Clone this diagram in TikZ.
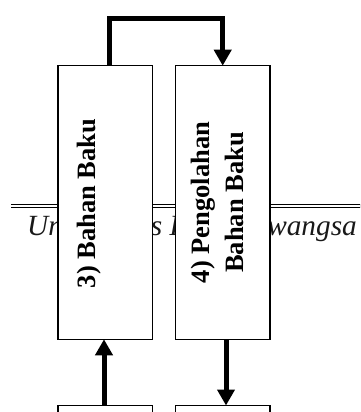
\documentclass[tikz,border=0pt]{standalone}
\usepackage{fontspec}
\setmainfont{Liberation Serif}
\usetikzlibrary{arrows.meta}
\tikzset{
  boxnode/.style={draw=black, line width=1.5pt, fill=white, rectangle, minimum width=94.7pt, minimum height=273.6pt, inner sep=0pt, outer sep=0pt},
  lowbox/.style={draw=black, line width=1.5pt, fill=white, rectangle, minimum width=94.7pt, minimum height=40pt, inner sep=0pt, outer sep=0pt},
  boxlabel/.style={rotate=90, anchor=base, inner sep=0pt, font=\bfseries\fontsize{26.5}{34}\selectfont},
  conn/.style={line width=5pt, line join=miter, draw=black},
  arr/.style={conn, -{Triangle[width=17pt,length=16pt]}},
  wmark/.style={anchor=base west, inner sep=0pt, text=black!90, font=\itshape\fontsize{29.3}{30}\selectfont},
  rule/.style={draw=black, double=white, line width=1.1pt, double distance=1.9pt}
}
\begin{document}
\begin{tikzpicture}[x=1pt,y=-1pt]
\useasboundingbox (0,0) rectangle (360,412);
\clip (0,0) rectangle (360,412);
% background watermark and rule
\coordinate (rl) at (11,206.2);
\coordinate (rr) at (362,206.2);
\draw[rule] (rl) -- (rr);
\node[wmark] (wm) at (27,235) {Universitas Dharmawangsa};
% boxes
\node[boxnode] (b1) at (105.2,202.5) {};
\node[boxnode] (b2) at (222.7,202.5) {};
\node[lowbox] (b3) at (105.2,425.5) {};
\node[lowbox] (b4) at (222.7,425.5) {};
% labels
\node[boxlabel] (t1) at (95,203.5) {3) Bahan Baku};
\node[boxlabel] (t2a) at (209.3,202.5) {4) Pengolahan};
\node[boxlabel] (t2b) at (243.3,202.5) {Bahan Baku};
% connectors
\coordinate (topy) at (0,19);
\draw[arr] ([xshift=4.3pt]b1.north) |- (topy -| b2.north) -- (b2.north);
\draw[arr] ([xshift=-1.2pt]b3.north) -- ([xshift=-1.2pt]b1.south);
\draw[arr] ([xshift=3.3pt]b2.south) -- ([xshift=3.3pt]b4.north);
\end{tikzpicture}
\end{document}
